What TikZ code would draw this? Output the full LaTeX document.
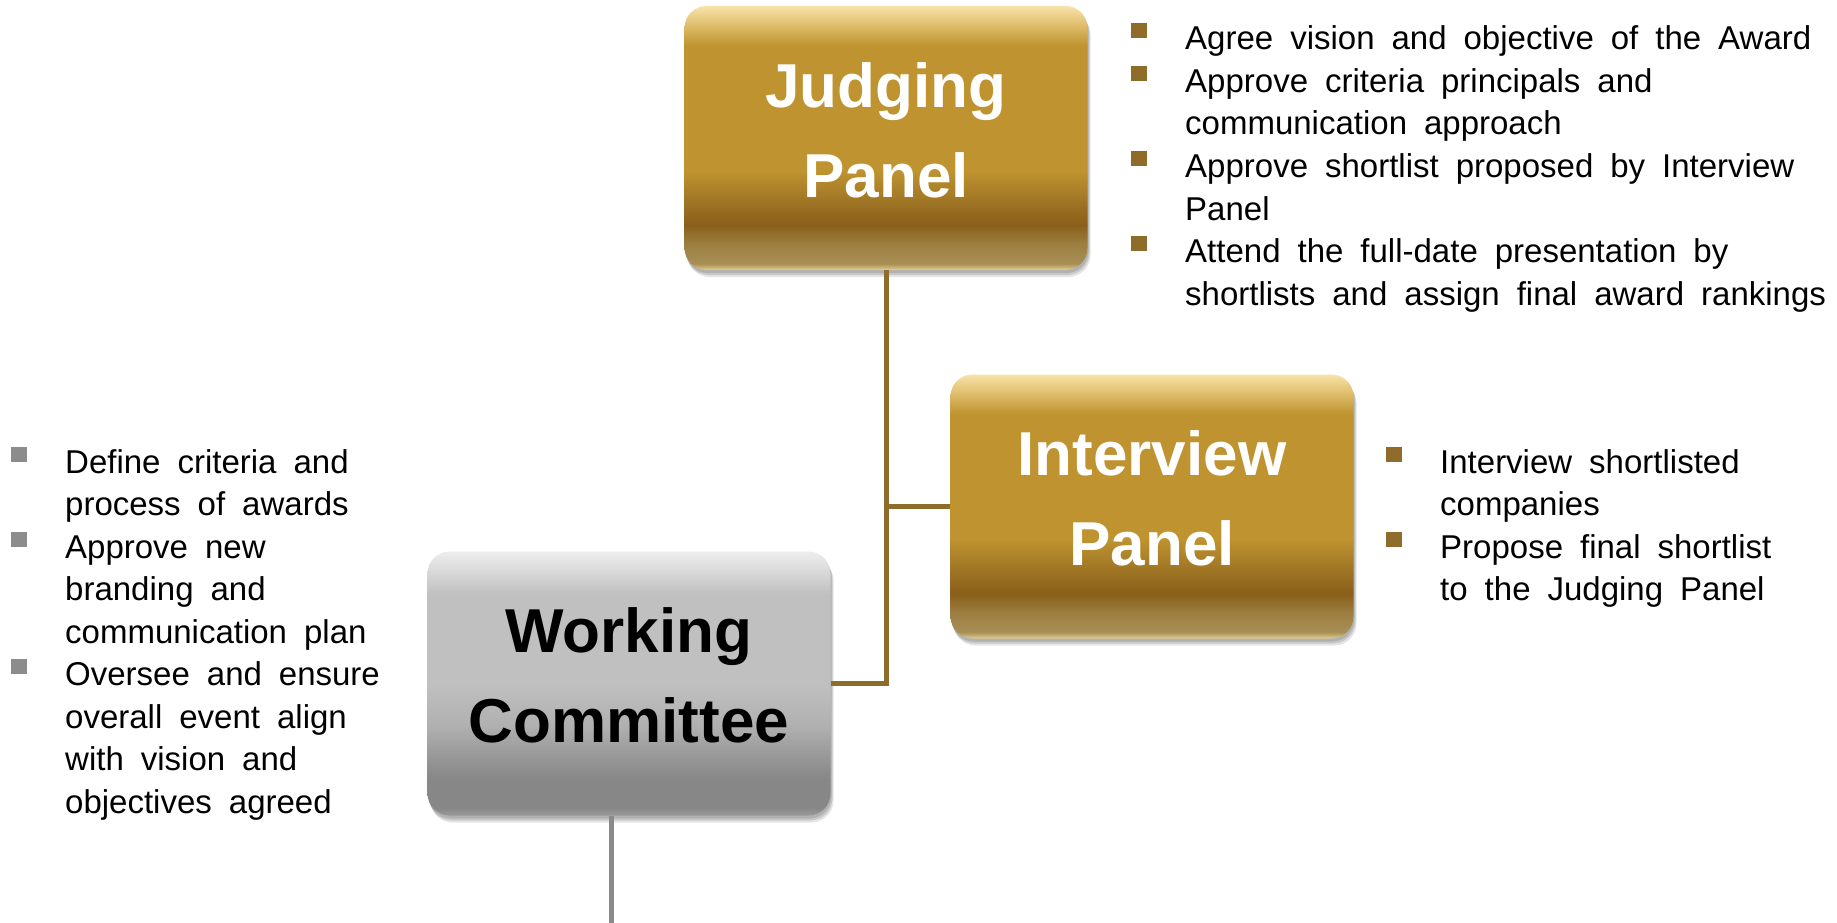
\documentclass[tikz,border=0pt]{standalone}
\usepackage{fontspec}
\setmainfont{Liberation Sans}
\usetikzlibrary{shadows,positioning}
\definecolor{goldtop}{HTML}{F7E3AA}
\definecolor{goldlight}{HTML}{E0BE6C}
\definecolor{goldmain}{HTML}{BF9430}
\definecolor{goldmid}{HTML}{A27826}
\definecolor{golddark}{HTML}{8A5F1A}
\definecolor{goldlow}{HTML}{9C7E40}
\definecolor{goldlow2}{HTML}{A88F55}
\definecolor{goldedge}{HTML}{E3CE92}
\definecolor{greytop}{HTML}{EEEEEE}
\definecolor{greylight}{HTML}{DADADA}
\definecolor{greymain}{HTML}{C0C0C0}
\definecolor{greymid}{HTML}{B0B0B0}
\definecolor{greydark}{HTML}{878787}
\definecolor{greyedge}{HTML}{9A9A9A}
\definecolor{linkgold}{HTML}{8E6C2C}
\definecolor{bulletgold}{HTML}{8F6C2A}
\definecolor{bulletgrey}{HTML}{8C8C8C}
\definecolor{linkgrey}{HTML}{8A8A8A}
\pgfdeclareverticalshading{goldshade}{100bp}{color(0bp)=(goldedge); color(25bp)=(goldedge); color(26.2bp)=(goldlow2); color(30bp)=(goldlow); color(33.5bp)=(golddark); color(38.5bp)=(goldmid); color(44bp)=(goldmain); color(67.5bp)=(goldmain); color(71.5bp)=(goldlight); color(75bp)=(goldtop); color(100bp)=(goldtop)}
\pgfdeclareverticalshading{greyshade}{100bp}{color(0bp)=(greyedge); color(25bp)=(greyedge); color(26.5bp)=(greydark); color(32bp)=(greydark); color(42bp)=(greymid); color(50bp)=(greymain); color(67bp)=(greymain); color(71.5bp)=(greylight); color(75bp)=(greytop); color(100bp)=(greytop)}
\newcommand\titlefont{\bfseries\fontsize{62}{90}\selectfont}
\newcommand\dutyfont{\fontsize{33}{42.5}\selectfont\spaceskip=17pt plus 1pt\relax}
\tikzset{
  softshadow/.style={
    general shadow={shadow xshift=1pt, shadow yshift=-3pt, fill=black, opacity=.12},
    general shadow={shadow xshift=2pt, shadow yshift=-5pt, fill=black, opacity=.12},
    general shadow={shadow xshift=3pt, shadow yshift=-7pt, fill=black, opacity=.1}},
  panel/.style={rounded corners=22pt, minimum width=403pt, minimum height=264pt, inner sep=0pt, softshadow},
  goldpanel/.style={panel, shade, shading=goldshade},
  greypanel/.style={panel, shade, shading=greyshade},
  title/.style={inner sep=0pt, align=center, font=\titlefont},
  duty/.style={anchor=base west, inner sep=0pt, font=\dutyfont},
  goldsq/.style={fill=bulletgold, minimum width=16pt, minimum height=15pt, inner sep=0pt},
  greysq/.style={fill=bulletgrey, minimum width=16pt, minimum height=15pt, inner sep=0pt},
  goldlink/.style={draw=linkgold, line width=5pt},
  greylink/.style={draw=linkgrey, line width=5pt}
}
\begin{document}
\begin{tikzpicture}[x=1pt, y=-1pt]
  \useasboundingbox (0,0) rectangle (1837,923);

  % panels
  \node[goldpanel] (judging) at (886,138) {};
  \node[goldpanel] (interview) at (1152,506.5) {};
  \node[greypanel] (wc) at (629,683.5) {};

  \node[title, text=white] (judging-title) at ([yshift=8pt]judging.center) {Judging\\Panel};
  \node[title, text=white] (interview-title) at ([yshift=8pt]interview.center) {Interview\\Panel};
  \node[title, text=black] (wc-title) at ([yshift=8pt]wc.center) {Working\\Committee};

  % connectors
  \draw[goldlink] (judging.south) |- (wc.east);
  \draw[goldlink] (interview.west) -- (interview.west -| judging.south);
  \coordinate (wcout) at (611,923);
  \draw[greylink] (wcout |- wc.south) -- (wcout);

  % judging panel duties
  \foreach \txt [count=\i] in {Agree vision and objective of the Award, Approve criteria principals and, communication approach, Approve shortlist proposed by Interview, Panel, Attend the full-date presentation by, shortlists and assign final award rankings}
    \node[duty] (jline\i) at (1185,{7.5+42.5*\i}) {\txt};
  \foreach \i in {1,2,4,6}
    \node[goldsq] (jbul\i) at ([xshift=-46pt, yshift=19pt]jline\i.base west) {};

  % interview panel duties
  \foreach \txt [count=\i] in {Interview shortlisted, companies, Propose final shortlist, to the Judging Panel}
    \node[duty] (iline\i) at (1440,{430.5+42.5*\i}) {\txt};
  \foreach \i in {1,3}
    \node[goldsq] (ibul\i) at ([xshift=-46pt, yshift=19pt]iline\i.base west) {};

  % working committee duties
  \foreach \txt [count=\i] in {Define criteria and, process of awards, Approve new, branding and, communication plan, Oversee and ensure, overall event align, with vision and, objectives agreed}
    \node[duty] (wline\i) at (65,{430.5+42.5*\i}) {\txt};
  \foreach \i in {1,3,6}
    \node[greysq] (wbul\i) at ([xshift=-46pt, yshift=19pt]wline\i.base west) {};
\end{tikzpicture}
\end{document}
